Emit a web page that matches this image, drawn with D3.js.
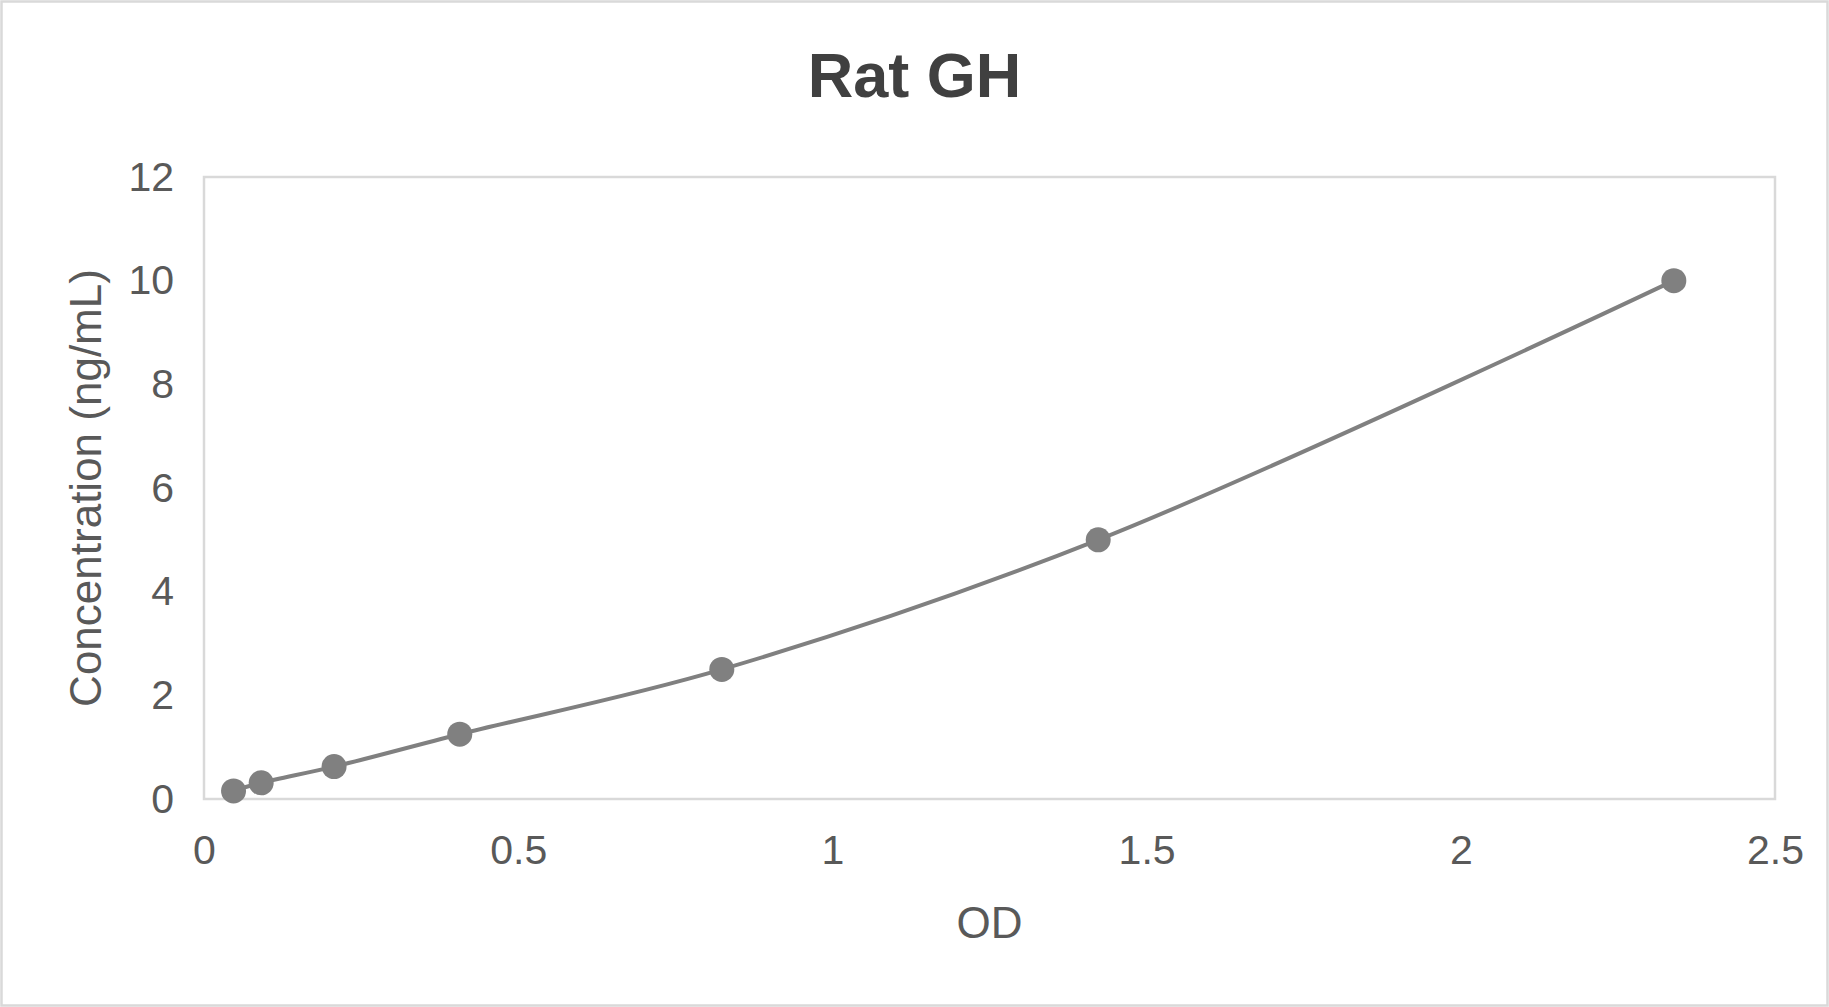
<!DOCTYPE html>
<html>
<head>
  <title>Rat GH</title>
  <style>
    body { margin: 0; background: #fff; }
    svg { display: block; font-family: "Liberation Sans", Arial, sans-serif; }
    .tick text { fill: #595959; font-size: 41px; }
  </style>
  <script src="https://d3js.org/d3.v7.min.js"></script>
</head>
<body>
  <svg id="chart" width="1829" height="1007"></svg>
  <script>
    // standard curve values
    const od = [0.047, 0.091, 0.207, 0.407, 0.824, 1.423, 2.339];
    const conc = [0.156, 0.3125, 0.625, 1.25, 2.5, 5, 10];
    const xTicks = [0, 0.5, 1, 1.5, 2, 2.5];
    const yTicks = [0, 2, 4, 6, 8, 10, 12];

    const W = 1829, H = 1007;
    const plot = { left: 204, right: 1775, top: 177, bottom: 799 };

    const svg = d3.select('#chart');

    // outer chart border
    svg.append('rect')
      .attr('x', 1.5).attr('y', 1.5)
      .attr('width', W - 3).attr('height', H - 3)
      .attr('fill', '#fff')
      .attr('stroke', '#d9d9d9')
      .attr('stroke-width', 2.5);

    const x = d3.scaleLinear().domain([0, 2.5]).range([plot.left, plot.right]);
    const y = d3.scaleLinear().domain([0, 12]).range([plot.bottom, plot.top]);

    // plot area frame
    svg.append('rect')
      .attr('x', plot.left).attr('y', plot.top)
      .attr('width', plot.right - plot.left)
      .attr('height', plot.bottom - plot.top)
      .attr('fill', 'none')
      .attr('stroke', '#d9d9d9')
      .attr('stroke-width', 2.5);

    const xAxis = svg.append('g')
      .attr('transform', `translate(0,${plot.bottom})`)
      .call(d3.axisBottom(x).tickValues(xTicks).tickSize(0).tickPadding(36).tickFormat(d3.format('')));
    xAxis.select('.domain').remove();

    const yAxis = svg.append('g')
      .attr('transform', `translate(${plot.left},0)`)
      .call(d3.axisLeft(y).tickValues(yTicks).tickSize(0).tickPadding(30));
    yAxis.select('.domain').remove();

    // smoothed curve
    const pts = od.map((d, i) => [d, conc[i]]);
    const line = d3.line()
      .x(d => x(d[0]))
      .y(d => y(d[1]))
      .curve(d3.curveCatmullRom.alpha(0.5));

    svg.append('path')
      .datum(pts)
      .attr('d', line)
      .attr('fill', 'none')
      .attr('stroke', '#808080')
      .attr('stroke-width', 4);

    svg.selectAll('circle.pt')
      .data(pts)
      .enter().append('circle')
      .attr('class', 'pt')
      .attr('cx', d => x(d[0]))
      .attr('cy', d => y(d[1]))
      .attr('r', 12.5)
      .attr('fill', '#808080');

    // titles
    svg.append('text')
      .attr('x', W / 2).attr('y', 97)
      .attr('text-anchor', 'middle')
      .attr('font-size', 63)
      .attr('font-weight', 'bold')
      .attr('fill', '#404040')
      .text('Rat GH');

    svg.append('text')
      .attr('x', (plot.left + plot.right) / 2).attr('y', 938)
      .attr('text-anchor', 'middle')
      .attr('font-size', 44)
      .attr('fill', '#595959')
      .text('OD');

    svg.append('text')
      .attr('transform', `translate(101,${(plot.top + plot.bottom) / 2}) rotate(-90)`)
      .attr('text-anchor', 'middle')
      .attr('font-size', 44)
      .attr('fill', '#595959')
      .text('Concentration (ng/mL)');
  </script>
</body>
</html>
